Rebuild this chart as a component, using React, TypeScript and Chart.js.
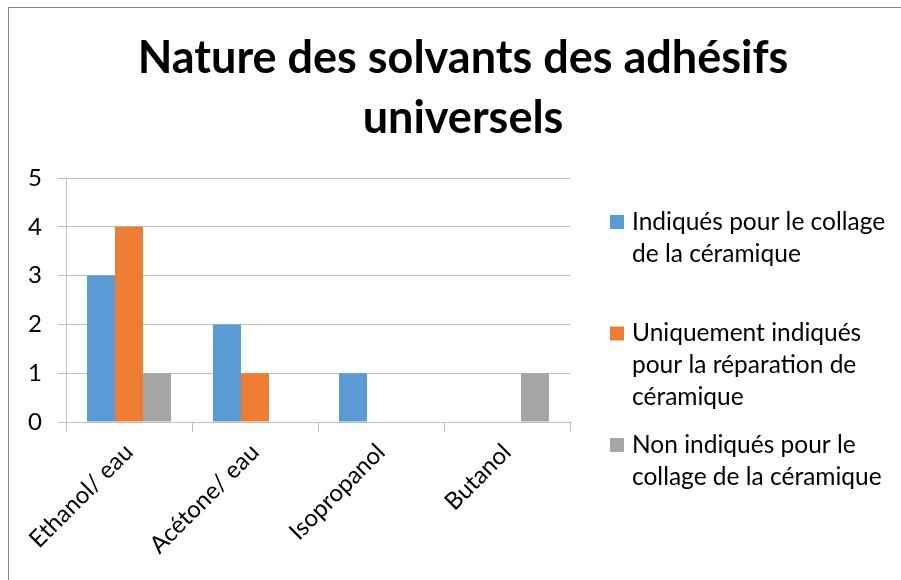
import React, { useEffect, useRef } from "react";
import { Chart, registerables } from "chart.js";

Chart.register(...registerables);

const categories = ["Ethanol/ eau", "Acétone/ eau", "Isopropanol", "Butanol"];
const titleLines = ["Nature des solvants des adhésifs", "universels"];
const seriesLines = [
  ["Indiqués pour le collage", "de la céramique"],
  ["Uniquement indiqués", "pour la réparation de", "céramique"],
  ["Non indiqués pour le", "collage de la céramique"],
];
const indiquesCollage = [3, 2, 1, 0];
const uniquementReparation = [4, 1, 0, 0];
const nonIndiques = [1, 0, 0, 1];
const yMin = 0;
const yMax = 5;
const yStep = 1;
const seriesColors = ["#5B9BD5", "#ED7D31", "#A5A5A5"];

const FONT = "Lato, 'Noto Sans', sans-serif";

const wrappedLegend = {
  id: "wrappedLegend",
  afterDraw(chart: any, _args: any, opts: any) {
    const ctx = chart.ctx;
    const area = chart.chartArea;
    ctx.save();
    ctx.font = `${opts.fontSize}px ${FONT}`;
    ctx.textBaseline = "middle";
    ctx.textAlign = "left";
    chart.data.datasets.forEach((ds: any, i: number) => {
      const lines = opts.lines[i];
      const y0 = opts.top + i * opts.itemSpacing;
      ctx.fillStyle = ds.backgroundColor;
      ctx.fillRect(area.right + opts.boxOffset, y0 - opts.boxSize / 2, opts.boxSize, opts.boxSize);
      ctx.fillStyle = opts.color;
      lines.forEach((ln: string, j: number) => {
        ctx.fillText(ln, area.right + opts.textOffset, y0 + j * opts.lineHeight);
      });
    });
    ctx.restore();
  },
};

export default function App() {
  const ref = useRef<HTMLCanvasElement | null>(null);

  useEffect(() => {
    if (!ref.current) return;
    const chart = new Chart(ref.current, {
      type: "bar",
      data: {
        labels: categories,
        datasets: [
          { label: seriesLines[0].join(" "), data: indiquesCollage, backgroundColor: seriesColors[0], yAxisID: "y" },
          { label: seriesLines[1].join(" "), data: uniquementReparation, backgroundColor: seriesColors[1], yAxisID: "y" },
          { label: seriesLines[2].join(" "), data: nonIndiques, backgroundColor: seriesColors[2], yAxisID: "y" },
        ],
      },
      options: {
        responsive: false,
        animation: false,
        devicePixelRatio: 1,
        layout: { padding: 0 },
        datasets: {
          bar: { categoryPercentage: 3 / 4.5, barPercentage: 1, borderWidth: 0 },
        },
        plugins: {
          legend: { display: false },
          tooltip: { enabled: false },
          title: {
            display: true,
            text: titleLines,
            color: "#000",
            font: { family: FONT, size: 45, weight: "bold", lineHeight: 60 / 45 },
            padding: { top: 20, bottom: 30 },
          },
          wrappedLegend: {
            lines: seriesLines,
            fontSize: 24.5,
            color: "#000",
            top: 214,
            itemSpacing: 111.5,
            lineHeight: 32,
            boxSize: 14,
            boxOffset: 40,
            textOffset: 62,
          },
        } as any,
        scales: {
          x: {
            grid: { display: true, drawOnChartArea: false, drawTicks: true, tickLength: 10, color: "#BFBFBF", offset: true },
            border: { display: true, color: "#BFBFBF" },
            ticks: {
              color: "#000",
              font: { family: FONT, size: 24 },
              minRotation: 45,
              maxRotation: 45,
              padding: 6,
              autoSkip: false,
            },
            afterFit: (s: any) => {
              s.height = 158;
            },
          },
          y: {
            min: yMin,
            max: yMax,
            grid: { color: "#BFBFBF", tickLength: 8, drawTicks: true },
            border: { display: true, color: "#BFBFBF" },
            ticks: {
              stepSize: yStep,
              color: "#000",
              font: { family: FONT, size: 24 },
              padding: 16,
            },
            afterFit: (s: any) => {
              s.width = 57;
            },
          },
          legendSpace: {
            type: "linear",
            position: "right",
            display: true,
            grid: { drawOnChartArea: false, drawTicks: false },
            border: { display: false },
            ticks: { display: false },
            afterFit: (s: any) => {
              s.width = 347;
            },
          },
        } as any,
      },
      plugins: [wrappedLegend],
    });
    return () => chart.destroy();
  }, []);

  return (
    <div
      style={{
        position: "absolute",
        left: 8,
        top: 7,
        width: 893,
        height: 573,
        borderLeft: "1px solid #898989",
        borderTop: "1px solid #898989",
        overflow: "hidden",
        background: "#fff",
      }}
    >
      <canvas ref={ref} width={908} height={572} style={{ display: "block" }} />
    </div>
  );
}
